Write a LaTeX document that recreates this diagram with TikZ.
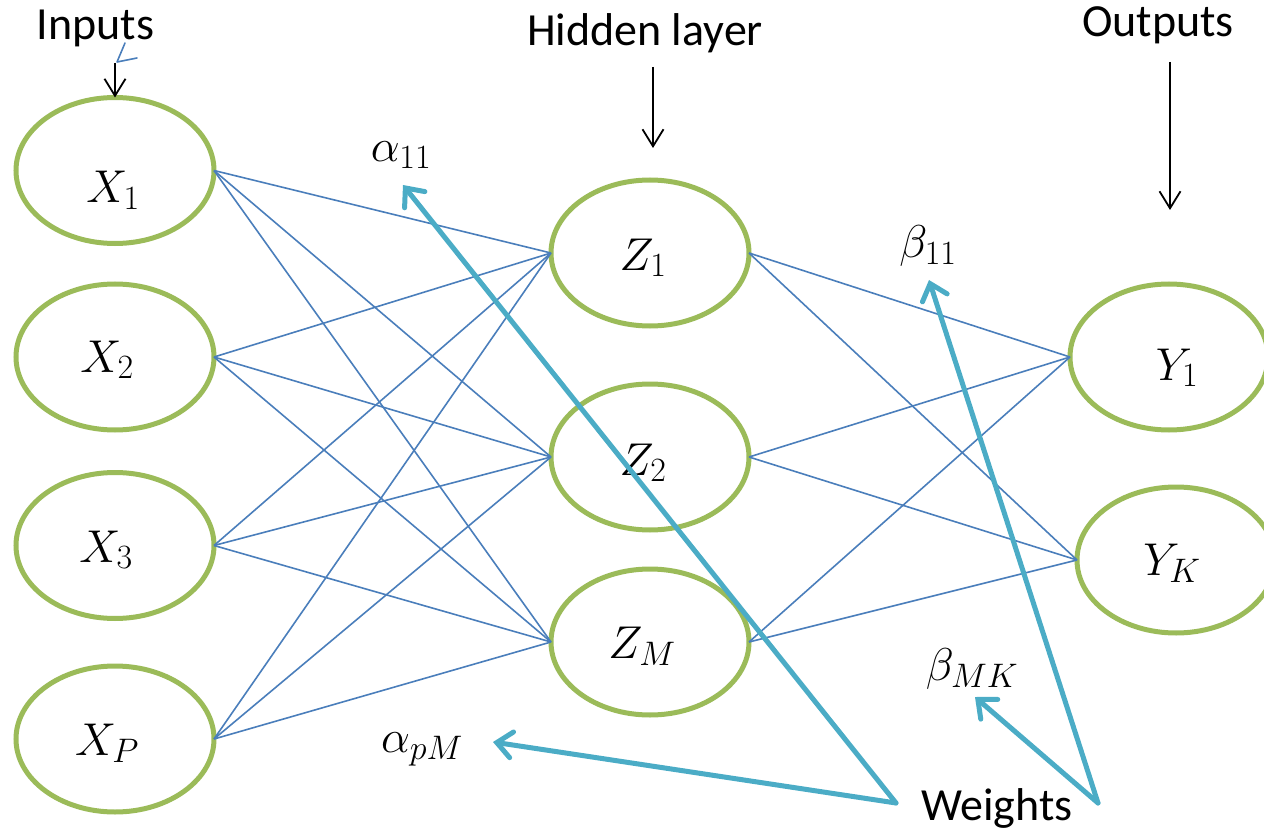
\documentclass[tikz,border=0pt]{standalone}
\usepackage{fix-cm}
\usepackage{fontspec}
\setmainfont{Carlito}
\DeclareMathSizes{46}{46}{34}{25}
\usetikzlibrary{arrows.meta,shapes.geometric}
\definecolor{ngreen}{HTML}{9BBB59}
\definecolor{nblue}{HTML}{4A7EBB}
\definecolor{nteal}{HTML}{4BACC6}
\begin{document}
\begin{tikzpicture}[x=1pt,y=-1pt,
  neuron/.style={ellipse,draw=ngreen,line width=5pt,minimum width=198pt,minimum height=146pt,inner sep=0pt,outer sep=0pt},
  mlab/.style={anchor=base,inner sep=0pt,font=\fontsize{46}{55}\selectfont},
  title/.style={anchor=base,inner sep=0pt,font=\fontsize{46}{55}\selectfont},
  wire/.style={draw=nblue,line width=1.6pt},
  weightarrow/.style={draw=nteal,line width=5pt,line cap=round,-{Straight Barb[length=15pt,width=26pt,line cap=round]}},
  pointer/.style={draw=black,line width=1.8pt,-{Straight Barb[length=17pt,width=21pt]}}]
\useasboundingbox (0,0) rectangle (1264,829);

% neurons
\node[neuron] (X1) at (115,170.5) {};
\node[neuron] (X2) at (115,357) {};
\node[neuron] (X3) at (115,545.5) {};
\node[neuron] (XP) at (115,739) {};
\node[neuron] (Z1) at (650,253) {};
\node[neuron] (Z2) at (650,457) {};
\node[neuron] (ZM) at (650,642) {};
\node[neuron] (Y1) at (1169,357) {};
\node[neuron] (YK) at (1176,560) {};

% neuron labels
\node[mlab] (tX1) at (113,203) {$X_1$};
\node[mlab] (tX2) at (107,372) {$X_2$};
\node[mlab] (tX3) at (106,562) {$X_3$};
\node[mlab] (tXP) at (107,755) {$X_P$};
\node[mlab] (tZ1) at (643,270) {$Z_1$};
\node[mlab] (tZ2) at (643,475) {$Z_2$};
\node[mlab] (tZM) at (642,658) {$Z_M$};
\node[mlab] (tY1) at (1177,380) {$Y_1$};
\node[mlab] (tYK) at (1172,575) {$Y_K$};

% wires
\foreach \i in {X1,X2,X3,XP}
  \foreach \j in {Z1,Z2,ZM}
    \draw[wire] (\i.east) -- (\j.west);
\foreach \j in {Z1,Z2,ZM}
  \foreach \k in {Y1,YK}
    \draw[wire] (\j.east) -- (\k.west);

% titles
\node[title] (inputs) at (95.5,40) {Inputs};
\node[title] (hidden) at (645,46) {Hidden layer};
\node[title] (outputs) at (1158,37) {Outputs};
\node[title] (weights) at (997,820) {Weights};

% title pointers
\coordinate (pin) at (115,63);
\coordinate (phs) at (653,67);
\coordinate (phe) at (653,148);
\coordinate (pos) at (1170,62);
\coordinate (poe) at (1170,210);
\draw[pointer] (pin) -- (X1.north);
\draw[pointer] (phs) -- (phe);
\draw[pointer] (pos) -- (poe);

% small blue mark
\coordinate (m1) at (125,43);
\coordinate (m2) at (117,62);
\coordinate (m3) at (137,58);
\draw[nblue,line width=1.6pt,line cap=round,line join=round] (m1) -- (m2) -- (m3);

% weight labels
\node[mlab] (a11) at (401,162) {$\alpha_{11}$};
\node[mlab] (b11) at (928,258) {$\beta_{11}$};
\node[mlab] (bMK) at (972,680) {$\beta_{MK}$};
\node[mlab] (apM) at (422,752) {$\alpha_{pM}$};

% weight arrows
\coordinate (wL) at (896,803);
\coordinate (wR) at (1098,803);
\coordinate (ta11) at (403,185);
\coordinate (tapM) at (493,742);
\coordinate (tb11) at (929,280);
\coordinate (tbMK) at (975,697);
\draw[weightarrow] (wL) -- (ta11);
\draw[weightarrow] (wL) -- (tapM);
\draw[weightarrow] (wR) -- (tb11);
\draw[weightarrow] (wR) -- (tbMK);
\end{tikzpicture}
\end{document}
